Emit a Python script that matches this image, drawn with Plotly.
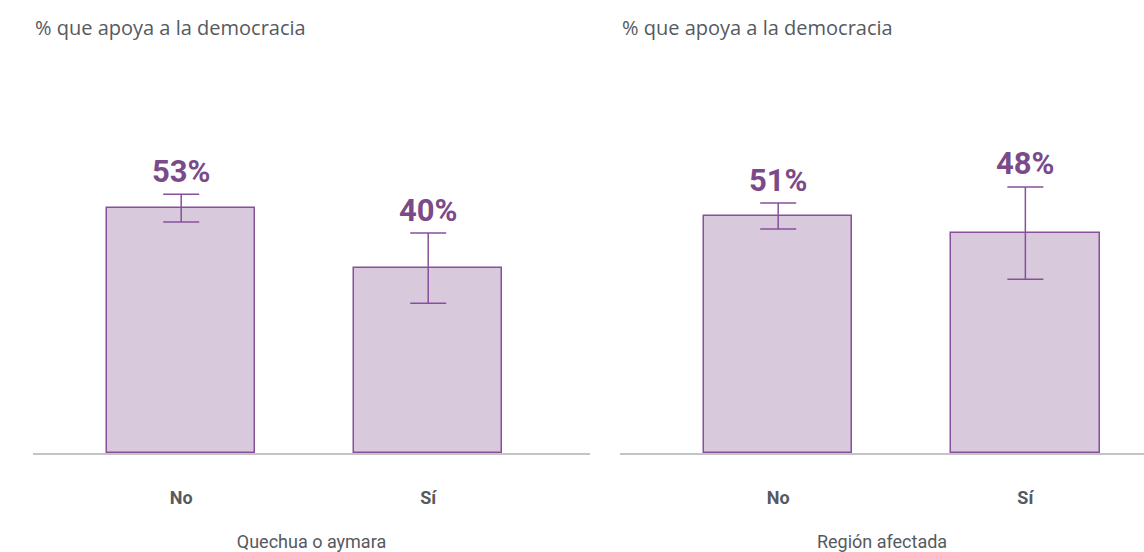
import plotly.graph_objects as go

categories = ["No", "Sí"]
quechua_vals = [53.0, 40.0]
quechua_err = [3.0, 7.6]
quechua_labels = ["53%", "40%"]
region_vals = [51.3, 47.6]
region_err = [2.8, 10.0]
region_labels = ["51%", "48%"]

panel_title = "% que apoya a la democracia"
left_axis_title = "Quechua o aymara"
right_axis_title = "Región afectada"

FILL = "#d8c9dc"
LINE = "#86519a"
TEXT_PURPLE = "#7a4a8a"
GRAY = "#555a60"

W, H = 1144, 552
ml, mr, mt = 33, 0, 100
base = 453
mb = H - base
pw = W - ml - mr
ph = H - mt - mb
left_dom = [0, (590 - ml) / pw]
right_dom = [(620 - ml) / pw, 1]
PX_PER_UNIT = 4.62

fig = go.Figure()

def add_panel(vals, errs, xa, ya):
    fig.add_trace(go.Bar(
        x=[0, 1], y=vals, width=0.6,
        marker=dict(color=FILL, line=dict(color=LINE, width=1.5)),
        error_y=dict(type="data", array=errs, visible=True, color=LINE, thickness=1.5, width=18),
        xaxis=xa, yaxis=ya, showlegend=False, hoverinfo="skip",
    ))

add_panel(quechua_vals, quechua_err, "x", "y")
add_panel(region_vals, region_err, "x2", "y2")

ann = []
for xref, yref, vals, errs, labs in [("x", "y", quechua_vals, quechua_err, quechua_labels),
                                      ("x2", "y2", region_vals, region_err, region_labels)]:
    for i, (v, e, l) in enumerate(zip(vals, errs, labs)):
        ann.append(dict(x=i, y=v + e, xref=xref, yref=yref, text=l, showarrow=False,
                        yanchor="middle", yshift=23,
                        font=dict(family="Roboto", size=31, color=TEXT_PURPLE, weight="bold")))

for xp in [33, 620]:
    ann.append(dict(x=(xp - ml) / pw, y=1 + (mt - 27) / ph,
                    xref="paper", yref="paper", text=panel_title, showarrow=False,
                    xanchor="left", yanchor="middle",
                    font=dict(family="Open Sans", size=20, color=GRAY)))

fig.update_layout(
    width=W, height=H,
    margin=dict(l=ml, r=mr, t=mt, b=mb),
    paper_bgcolor="white", plot_bgcolor="white",
    annotations=ann,
    bargap=0,
)

xcommon = dict(tickmode="array", tickvals=[0, 1], ticktext=categories,
               showgrid=False, zeroline=False, showline=True, linecolor="#c4c4c4", linewidth=1.5,
               ticks="", ticklabelstandoff=28,
               tickfont=dict(family="Roboto", size=18, color=GRAY, weight="bold"),
               fixedrange=True)
yr = [0, (base - mt) / PX_PER_UNIT]
fig.update_layout(
    xaxis=dict(domain=left_dom, range=[-0.6, 1.655], anchor="y",
               title=dict(text=left_axis_title, standoff=28,
                          font=dict(family="Roboto", size=18, color=GRAY)), **xcommon),
    xaxis2=dict(domain=right_dom, range=[-0.64, 1.48], anchor="y2",
                title=dict(text=right_axis_title, standoff=28,
                           font=dict(family="Roboto", size=18, color=GRAY)), **xcommon),
    yaxis=dict(range=yr, visible=False, fixedrange=True),
    yaxis2=dict(range=yr, visible=False, anchor="x2", fixedrange=True),
)

fig.write_html("out.html", config={"displayModeBar": False},
               post_script="document.body.style.margin='0px';document.body.style.overflow='hidden';")
